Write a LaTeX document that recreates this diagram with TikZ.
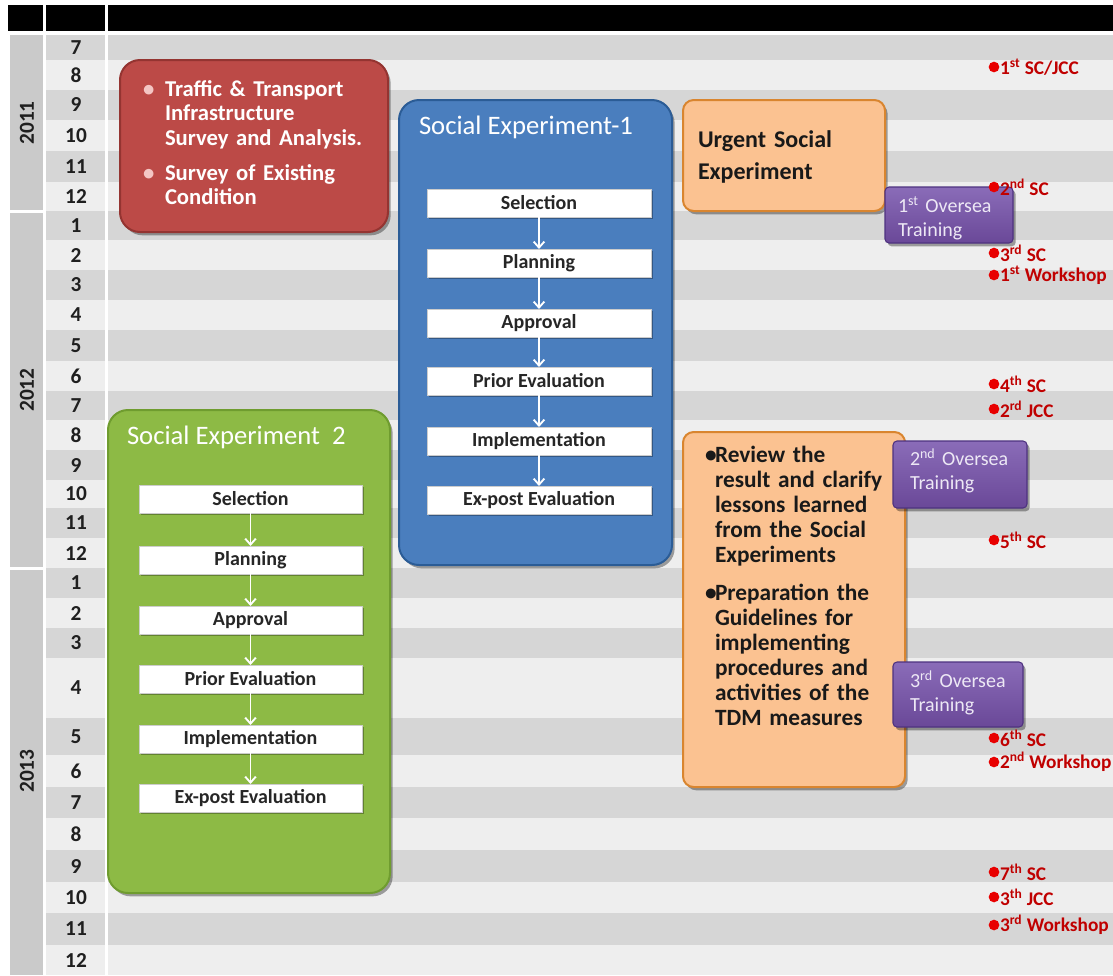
\documentclass[tikz,border=0pt]{standalone}
\usepackage{fontspec}
\setmainfont{Carlito}
\usetikzlibrary{arrows.meta,shadows}
\definecolor{rowdark}{HTML}{D6D6D6}
\definecolor{rowlight}{HTML}{EEEEEE}
\definecolor{yearcol}{HTML}{CACACA}
\definecolor{redfill}{HTML}{BC4A47}
\definecolor{reddraw}{HTML}{943431}
\definecolor{bulpink}{HTML}{F4C6C4}
\definecolor{bluefill}{HTML}{4A7EBE}
\definecolor{bluedraw}{HTML}{2B5C96}
\definecolor{greenfill}{HTML}{8DBA45}
\definecolor{greendraw}{HTML}{6F9C2F}
\definecolor{orfill}{HTML}{FBC291}
\definecolor{ordraw}{HTML}{D9852F}
\definecolor{purtop}{HTML}{8A6CB8}
\definecolor{purbot}{HTML}{6A4898}
\definecolor{purdraw}{HTML}{4E3280}
\definecolor{purtext}{HTML}{EDE8F5}
\definecolor{msred}{HTML}{C00000}
\definecolor{dotred}{HTML}{E80000}
\newcommand\fs[2]{\fontsize{#1}{#2}\selectfont}
\newcommand\bitem[3]{\noindent\makebox[#1][l]{#2}\begin{tabular}[t]{@{}l@{}}#3\end{tabular}}
\begin{document}
\begin{tikzpicture}[x=0.75pt,y=-0.75pt,
  every node/.style={inner sep=0pt,outer sep=0pt},
  monthlbl/.style={font=\fs{16}{16}\bfseries,text=black!88},
  yearlbl/.style={font=\fs{16}{16}\bfseries,text=black!88,rotate=90},
  bshadow/.style={drop shadow={shadow xshift=2pt,shadow yshift=-2.5pt,opacity=0.35,fill=black}},
  redbox/.style={bshadow,fill=redfill,draw=reddraw,line width=1.5pt,rounded corners=15pt},
  bluebox/.style={bshadow,fill=bluefill,draw=bluedraw,line width=1.5pt,rounded corners=15pt},
  greenbox/.style={bshadow,fill=greenfill,draw=greendraw,line width=1.5pt,rounded corners=15pt},
  orbox/.style={bshadow,fill=orfill,draw=ordraw,line width=1.5pt,rounded corners=8pt},
  purbox/.style={bshadow,top color=purtop,bottom color=purbot,draw=purdraw,line width=0.8pt,rounded corners=3pt},
  titletxt/.style={font=\fs{20}{20},text=white,anchor=west},
  stepbox/.style={fill=white,draw=black!20,line width=0.4pt,minimum height=21pt,
    font=\fs{15}{15}\bfseries,text=black!85,
    drop shadow={shadow xshift=1.5pt,shadow yshift=-1.5pt,opacity=0.3,fill=black}},
  steparrow/.style={white,line width=1.4pt,-{Straight Barb[length=4.5pt,width=8pt]}},
  bodytxt/.style={align=left,anchor=base west},
  purtxt/.style={text width=80pt,align=left,anchor=base west,font=\fs{15}{18.5},text=purtext},
  msdot/.style={circle,fill=dotred,minimum size=8pt},
  mstxt/.style={anchor=west,font=\fs{14.5}{14.5}\bfseries,text=msred,xshift=0.5pt}
]
\useasboundingbox (0,0) rectangle (1113,975);
\fill[white] (0,0) rectangle (1113,975);
% header
\fill[black] (8,5) rectangle (43,31);
\fill[black] (46,5) rectangle (105,31);
\fill[black] (108,5) rectangle (1113,31);
% year column
\fill[yearcol] (10,35) rectangle (43,209.5);
\fill[yearcol] (10,212.5) rectangle (43,566.5);
\fill[yearcol] (10,569.5) rectangle (43,975);
\node[yearlbl] (y2011) at (27,123) {2011};
\node[yearlbl] (y2012) at (27,390) {2012};
\node[yearlbl] (y2013) at (27,771) {2013};
% rows
\foreach \t/\b/\m/\c [count=\i] in {35/60/7/rowdark,60/90/8/rowlight,90/120/9/rowdark,120/151/10/rowlight,151/182/11/rowdark,182/211/12/rowlight,211/240/1/rowdark,240/270/2/rowlight,270/300/3/rowdark,300/330/4/rowlight,330/361/5/rowdark,361/391/6/rowlight,391/420/7/rowdark,420/450/8/rowlight,450/480/9/rowdark,480/508/10/rowlight,508/538/11/rowdark,538/568/12/rowlight,568/598/1/rowdark,598/628/2/rowlight,628/658/3/rowdark,658/718/4/rowlight,718/755/5/rowdark,755/787/6/rowlight,787/818/7/rowdark,818/850/8/rowlight,850/882/9/rowdark,882/913/10/rowlight,913/945/11/rowdark,945/975/12/rowlight}{
  \fill[\c] (46,\t) rectangle (105,\b);
  \fill[\c] (108,\t) rectangle (1113,\b);
  \node[monthlbl] (m\i) at (76,{(\t+\b)/2}) {\m};
}
% red box
\node[redbox,minimum width=201pt,minimum height=129pt] (survey) at (254,146) {};
\node[bodytxt,text width=185pt,text=white,font=\fs{17}{18.4}\bfseries] (surveytxt) at (143,96)
  {\bitem{16.5pt}{\color{bulpink}\textbullet}{Traffic \& Transport\\Infrastructure\\Survey and Analysis.}\par\vspace{7pt}%
   \bitem{16.5pt}{\color{bulpink}\textbullet}{Survey of Existing\\Condition}};
% social experiment 1
\node[bluebox,minimum width=204.75pt,minimum height=348.75pt] (se1) at (535.5,332.5) {};
\node[titletxt] (se1t) at (419,127) {Social Experiment-1};
\node[stepbox,minimum width=168pt] (a1) at (539,203) {Selection};
\node[stepbox,minimum width=168pt] (a2) at (539,263) {Planning};
\node[stepbox,minimum width=168pt] (a3) at (539,323) {Approval};
\node[stepbox,minimum width=168pt] (a4) at (539,381) {Prior Evaluation};
\node[stepbox,minimum width=168pt] (a5) at (539,441) {Implementation};
\node[stepbox,minimum width=168pt] (a6) at (539,500) {Ex-post Evaluation};
\foreach \p/\q in {a1/a2,a2/a3,a3/a4,a4/a5,a5/a6} \draw[steparrow] (\p) -- (\q);
% social experiment 2
\node[greenbox,minimum width=211.5pt,minimum height=362.25pt] (se2) at (249,651.5) {};
\node[titletxt] (se2t) at (127,437) {Social Experiment\ \ 2};
\node[stepbox,minimum width=167pt] (b1) at (250.5,499) {Selection};
\node[stepbox,minimum width=167pt] (b2) at (250.5,560) {Planning};
\node[stepbox,minimum width=167pt] (b3) at (250.5,620) {Approval};
\node[stepbox,minimum width=167pt] (b4) at (250.5,679) {Prior Evaluation};
\node[stepbox,minimum width=167pt] (b5) at (250.5,739) {Implementation};
\node[stepbox,minimum width=167pt] (b6) at (250.5,798) {Ex-post Evaluation};
\foreach \p/\q in {b1/b2,b2/b3,b3/b4,b4/b5,b5/b6} \draw[steparrow] (\p) -- (\q);
% urgent social experiment
\node[orbox,minimum width=151.5pt,minimum height=83.25pt] (urgent) at (784,155.5) {};
\node[bodytxt,text width=140pt,text=black!90,font=\fs{18}{24}\bfseries] (urgenttxt) at (698,147) {Urgent Social\\Experiment};
% review box
\node[orbox,minimum width=166.5pt,minimum height=266.25pt] (review) at (794,609.5) {};
\node[bodytxt,text width=155pt,text=black!90,font=\fs{17.5}{18.75}\bfseries] (reviewtxt) at (705,462)
  {\bitem{7.5pt}{\textbullet}{Review the\\result and clarify\\lessons learned\\from the Social\\Experiments}\par\vspace{9pt}%
   \bitem{7.5pt}{\textbullet}{Preparation the\\Guidelines for\\implementing\\procedures and\\activities of the\\TDM measures}};
% oversea trainings
\node[purbox,minimum width=96pt,minimum height=42pt] (ot1) at (949,215) {};
\node[purtxt] (ot1t) at (898,212) {1\textsuperscript{st} Oversea\\Training};
\node[purbox,minimum width=100.5pt,minimum height=50.25pt] (ot2) at (960,474.5) {};
\node[purtxt] (ot2t) at (910,465) {2\textsuperscript{nd} Oversea\\Training};
\node[purbox,minimum width=97.5pt,minimum height=48.75pt] (ot3) at (958,694.5) {};
\node[purtxt] (ot3t) at (910,687) {3\textsuperscript{rd} Oversea\\Training};
% milestones
\node[msdot] (d1) at (994,67) {};   \node[mstxt] (t1) at (d1.east) {1\textsuperscript{st} SC/JCC};
\node[msdot] (d2) at (994,187) {};  \node[mstxt] (t2) at (d2.east) {2\textsuperscript{nd} SC};
\node[msdot] (d3) at (994,253) {};  \node[mstxt] (t3) at (d3.east) {3\textsuperscript{rd} SC};
\node[msdot] (d4) at (994,275) {};  \node[mstxt] (t4) at (d4.east) {1\textsuperscript{st} Workshop};
\node[msdot] (d5) at (994,384) {};  \node[mstxt] (t5) at (d5.east) {4\textsuperscript{th} SC};
\node[msdot] (d6) at (994,409) {};  \node[mstxt] (t6) at (d6.east) {2\textsuperscript{rd} JCC};
\node[msdot] (d7) at (994,540) {};  \node[mstxt] (t7) at (d7.east) {5\textsuperscript{th} SC};
\node[msdot] (d8) at (994,738) {};  \node[mstxt] (t8) at (d8.east) {6\textsuperscript{th} SC};
\node[msdot] (d9) at (994,762) {};  \node[mstxt] (t9) at (d9.east) {2\textsuperscript{nd} Workshop};
\node[msdot] (d10) at (994,872) {}; \node[mstxt] (t10) at (d10.east) {7\textsuperscript{th} SC};
\node[msdot] (d11) at (994,897) {}; \node[mstxt] (t11) at (d11.east) {3\textsuperscript{th} JCC};
\node[msdot] (d12) at (994,925) {}; \node[mstxt] (t12) at (d12.east) {3\textsuperscript{rd} Workshop};
\end{tikzpicture}
\end{document}
